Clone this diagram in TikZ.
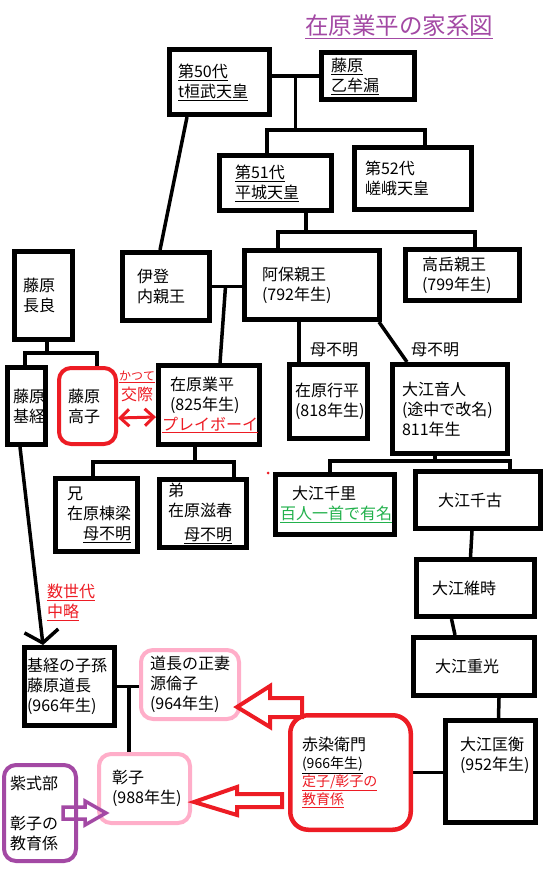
\documentclass[tikz,border=0pt]{standalone}
\usepackage{fontspec}
\setmainfont{Noto Sans CJK JP}
\usepackage{tikz}
\usetikzlibrary{arrows.meta,positioning,calc,backgrounds}
\definecolor{PaintRed}{RGB}{237,28,36}
\definecolor{PaintPink}{RGB}{255,174,201}
\definecolor{PaintPurple}{RGB}{163,73,164}
\definecolor{PaintGreen}{RGB}{34,177,76}

\begin{document}
\begin{tikzpicture}[x=1pt, y=-1pt, font=\fontsize{16}{20}\selectfont,
  kbox/.style={draw, line width=5pt, fill=white, align=left, inner ysep=0pt},
  softbox/.style={draw=#1, line width=4pt, rounded corners=12pt, fill=white, align=left, inner ysep=0pt},
  conn/.style={line width=3.5pt},
  hollow/.style={line width=4pt, line join=miter},
  note/.style={inner sep=0pt, anchor=west}]
  \useasboundingbox (0,0) rectangle (559,874);

  \node[text=PaintPurple, font=\fontsize{23.5}{28}\selectfont, anchor=base] (title) at (399,34.5) {\underline{在原業平の家系図}};

  \node[kbox, text width=83pt, inner xsep=8.5pt, minimum height=65pt] (kanmu) at (219.5,82) {\underline{第50代}\\\underline{t桓武天皇}};
  \node[kbox, text width=74pt, inner xsep=9.5pt, minimum height=47pt] (otomuro) at (368,76) {\underline{藤原}\\\underline{乙牟漏}};
  \node[kbox, text width=81pt, inner xsep=15.5pt, minimum height=55pt] (heizei) at (275.5,183) {\underline{第51代}\\\underline{平城天皇}};
  \node[kbox, text width=96pt, inner xsep=10.5pt, minimum height=62pt] (saga) at (413,178.5) {第52代\\嵯峨天皇};
  \node[kbox, text width=58pt, inner xsep=14.5pt, minimum height=68pt] (ito) at (166,286.5) {伊登\\内親王};
  \node[kbox, text width=100pt, inner xsep=17.5pt, minimum height=69pt] (abo) at (312,285) {阿保親王\\(792年生)};
  \node[kbox, text width=81pt, inner xsep=16.5pt, minimum height=51pt] (takaoka) at (462.5,275) {高岳親王\\(799年生)};
  \node[kbox, text width=41pt, inner xsep=8.5pt, minimum height=88pt] (nagara) at (43.5,295.5) {藤原\\長良};
  \node[kbox, text width=27pt, inner xsep=5.5pt, minimum height=77pt] (mototsune) at (26.5,406) {藤原\\基経};
  \node[softbox=PaintRed, text width=39pt, inner xsep=9pt, minimum height=76pt] (takaiko) at (87.5,406) {藤原\\高子};
  \node[kbox, text width=78pt, inner xsep=11.5pt, minimum height=79pt] (narihira) at (209,405) {在原業平\\(825年生)\\\hspace*{-8pt}\textcolor{PaintRed}{\underline{プレイボーイ}}};
  \node[kbox, text width=67pt, inner xsep=5.5pt, minimum height=74pt] (yukihira) at (328.5,401.5) {在原行平\\(818年生)};
  \node[kbox, text width=96pt, inner xsep=9.5pt, minimum height=89pt] (otondo) at (450,409) {大江音人\\(途中で改名)\\811年生};
  \node[kbox, text width=59pt, inner xsep=11.5pt, minimum height=73pt] (muneyana) at (96.5,515) {兄\\在原棟梁\\\hbox to 4em{\hfill\underline{母不明}}};
  \node[kbox, text width=70pt, inner xsep=8.5pt, minimum height=68pt] (shigeharu) at (203,513.5) {弟\\在原滋春\\[4pt]\hbox to 4em{\hfill\underline{母不明}}};
  \node[kbox, text width=110pt, inner xsep=4.5pt, minimum height=60pt] (chisato) at (335,504.5) {\hspace*{12pt}大江千里\\\textcolor{PaintGreen}{\underline{百人一首で有名}}};
  \node[kbox, text width=80pt, inner xsep=22.5pt, minimum height=57pt] (chifuru) at (478,500) {大江千古};
  \node[kbox, text width=87pt, inner xsep=15.5pt, minimum height=57pt] (koretoki) at (475.5,588) {大江維時};
  \node[kbox, text width=78pt, inner xsep=21.5pt, minimum height=58pt] (shigemitsu) at (474,666.5) {大江重光};
  \node[kbox, text width=61pt, inner xsep=14.5pt, minimum height=102pt] (masahira) at (490.5,771.5) {大江匡衡\\(952年生)\\[16pt]~};
  \node[kbox, text width=85pt, inner xsep=2.5pt, minimum height=78pt] (michinaga) at (69.5,686.5) {基経の子孫\\藤原道長\\(966年生)};
  \node[softbox=PaintPink, text width=80pt, inner xsep=9pt, minimum height=69pt] (rinshi) at (190,684.5) {道長の正妻\\源倫子\\(964年生)};
  \node[softbox=PaintPink, text width=65pt, inner xsep=13pt, minimum height=69pt] (shoshi) at (144.5,788.5) {彰子\\(988年生)};
  \node[softbox=PaintPurple, text width=60pt, inner xsep=6pt, minimum height=96pt] (murasaki) at (40,813) {紫式部\\~\\彰子の\\教育係};
  \node[softbox=PaintRed, line width=4.5pt, rounded corners=18pt, text width=97pt, inner xsep=11.75pt, minimum height=114.5pt] (akazome) at (350.5,772.5) {赤染衛門\\[-2pt]{\fontsize{14}{17}\selectfont\underline{(966年生)}}\\[-2pt]{\fontsize{14}{17}\selectfont\color{PaintRed}\underline{定子/彰子の}}\\[-2pt]{\fontsize{14}{17}\selectfont\color{PaintRed}\underline{教育係}}};

  \node[note] (hahaA) at (310,350) {母不明};
  \node[note] (hahaB) at (411,350) {母不明};
  \node[note, text=PaintRed, align=left] (chuuryaku) at (47,602) {\underline{数世代}\\\underline{中略}};
  \node[text=PaintRed, align=center, inner sep=0pt] (kosai) at (137,386) {{\fontsize{12}{18}\selectfont\underline{かつて}}\\交際};

  \begin{scope}[on background layer]
    \coordinate (kj) at ($(kanmu.east |- otomuro.west)!0.5!(otomuro.west)$);
    \coordinate (kbar) at (295.5,130);
    \draw[conn] (kanmu.east |- otomuro.west) -- (otomuro.west);
    \draw[conn] (kj) -- (kbar);
    \draw[conn] ([xshift=-8.5pt]heizei.north) |- (kbar) -| ([xshift=12pt]saga.north);
    \draw[conn] ([xshift=-32.5pt]kanmu.south) -- ([xshift=-6pt]ito.north);
    \coordinate (hbar) at (306,232);
    \draw[conn] ([xshift=30.5pt]heizei.south) -- (hbar);
    \draw[conn] ([xshift=-34pt]abo.north) |- (hbar) -| ([xshift=12.5pt]takaoka.north);
    \draw[conn] (ito.east) -- (ito.east -| abo.west);
    \coordinate (ij) at ($(ito.east)!0.45!(ito.east -| abo.west)$);
    \draw[conn] (ij) -- ([xshift=11pt]narihira.north);
    \coordinate (nbar) at (47,353);
    \draw[conn] ([xshift=3.5pt]nagara.south) -- (nbar);
    \draw[conn] ([xshift=-1.5pt]mototsune.north) |- (nbar) -| ([xshift=9.5pt]takaiko.north);
    \coordinate (nbar2) at (195,462);
    \draw[conn] ([xshift=-14pt]narihira.south) -- (nbar2);
    \draw[conn] ([xshift=-3.5pt]muneyana.north) |- (nbar2) -| ([xshift=31pt]shigeharu.north);
    \draw[conn] ([xshift=-13pt]abo.south) -- ([xshift=-29.5pt]yukihira.north);
    \draw[conn] ([xshift=-3pt]abo.south east) -- ([xshift=-43pt]otondo.north);
    \coordinate (obar) at (435,461);
    \draw[conn] ([xshift=-15pt]otondo.south) -- (obar);
    \draw[conn] ([xshift=-5pt]chisato.north) |- (obar) -| ([xshift=32pt]chifuru.north);
    \draw[conn] ([xshift=-6pt]chifuru.south) -- ([xshift=-5pt]koretoki.north);
    \draw[conn] ([xshift=-24pt]koretoki.south) -- ([xshift=-19pt]shigemitsu.north);
    \draw[conn] ([xshift=25pt]shigemitsu.south) -- ([xshift=8pt]masahira.north);
    \draw[conn] (akazome.east) -- (akazome.east -| masahira.west);
    \draw[conn] (michinaga.east) -- (michinaga.east -| rinshi.west);
    \coordinate (mj) at ($(michinaga.east)!0.55!(michinaga.east -| rinshi.west)$);
    \draw[conn] (mj) -- (mj |- shoshi.north);
    \draw[conn, -{Straight Barb[length=12pt,width=34pt]}] ([xshift=-6.5pt]mototsune.south) -- ([xshift=-26.5pt]michinaga.north);
    \draw[conn, line width=3pt, PaintRed, {Straight Barb[length=9pt,width=17pt]}-{Straight Barb[length=9pt,width=17pt]}] ([yshift=-12pt]takaiko.east) -- ([yshift=-12pt]narihira.west);
  \end{scope}

  \draw[hollow, PaintRed] ($(rinshi.east)+(-4,22.5)$) -- ++(33,-21) -- ++(0,12) -- ++(32,0) -- ++(0,19) -- ++(-32,0) -- ++(0,10) -- cycle;
  \draw[hollow, PaintRed] ($(shoshi.east)+(2,13.5)$) -- ++(43,-15) -- ++(0,7) -- ++(45,0) -- ++(0,13) -- ++(-45,0) -- ++(0,8) -- cycle;
  \draw[hollow, PaintPurple, line width=3.5pt] ($(shoshi.west)+(9,24.5)$) -- ++(-21,-12) -- ++(0,6) -- ++(-22,0) -- ++(0,12) -- ++(22,0) -- ++(0,6) -- cycle;
  \fill[PaintRed] (268,473) circle (1.5pt);
\end{tikzpicture}
\end{document}
